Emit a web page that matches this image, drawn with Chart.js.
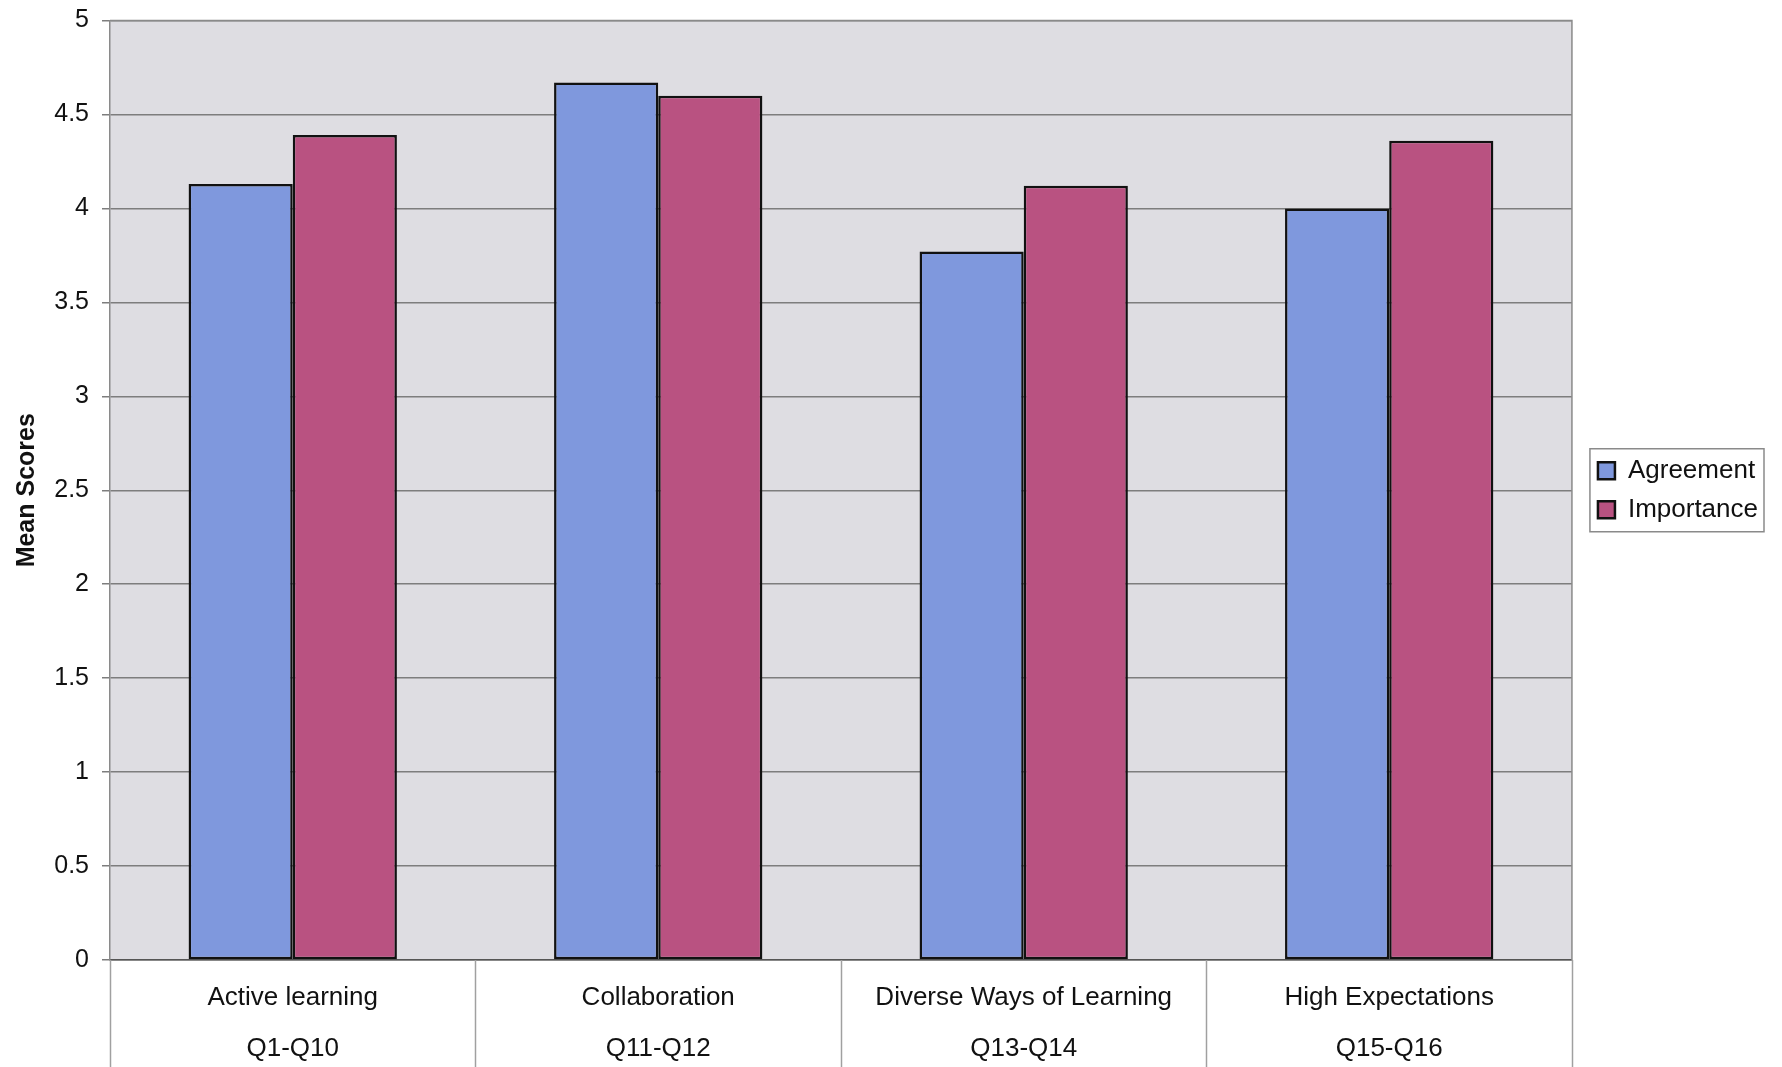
<!DOCTYPE html>
<html>
<head>
<meta charset="utf-8">
<script src="https://cdn.jsdelivr.net/npm/chart.js@4"></script>
<style>
  html, body { margin: 0; padding: 0; background: #fff; }
  #wrap { width: 1782px; height: 1067px; position: relative; }
</style>
</head>
<body>
<div id="wrap"><canvas id="chart"></canvas></div>
<script>
// categories: two-line labels (theme / question range)
const categories = [
    [ 'Active learning', 'Q1-Q10' ],
    [ 'Collaboration', 'Q11-Q12' ],
    [ 'Diverse Ways of Learning', 'Q13-Q14' ],
    [ 'High Expectations', 'Q15-Q16' ],
];
const agreement  = [ 4.13, 4.67, 3.77, 4.00 ];
const importance = [ 4.39, 4.60, 4.12, 4.36 ];
const yTicks     = [ 0, 0.5, 1, 1.5, 2, 2.5, 3, 3.5, 4, 4.5, 5 ];

const FONT = '"Liberation Sans", Arial, sans-serif';

// grey plot background, frame, and the divider lines under the category axis
const plotFrame = {
    id: 'plotFrame',
    beforeDraw( chart ) {
        const { ctx, chartArea: a } = chart;
        ctx.save();
        ctx.fillStyle = '#dedde2';
        ctx.fillRect( a.left, a.top, a.right - a.left, a.bottom - a.top );
        ctx.restore();
    },
    afterDraw( chart ) {
        const { ctx, chartArea: a } = chart;
        const x = chart.scales.x;
        ctx.save();
        ctx.strokeStyle = '#8a8a8a';
        ctx.lineWidth = 1.5;
        ctx.beginPath();
        ctx.moveTo( a.left, a.top );
        ctx.lineTo( a.right, a.top );
        ctx.lineTo( a.right, a.bottom );
        ctx.stroke();

        // dividers between categories, running below the axis
        const edges = [ x.left ];
        for ( let i = 1; i < categories.length; i++ ) {
            edges.push( ( x.getPixelForValue( i - 1 ) + x.getPixelForValue( i ) ) / 2 );
        }
        edges.push( x.right );
        ctx.strokeStyle = '#a0a0a0';
        ctx.lineWidth = 1.5;
        edges.forEach( ( px ) => {
            ctx.beginPath();
            ctx.moveTo( Math.round( px ) + 0.5, a.bottom );
            ctx.lineTo( Math.round( px ) + 0.5, chart.height );
            ctx.stroke();
        } );

        // legend frame
        const boxes = chart.legend.legendHitBoxes;
        if ( boxes && boxes.length ) {
            const l = Math.min( ...boxes.map( ( b ) => b.left ) ) - 8;
            const t = Math.min( ...boxes.map( ( b ) => b.top ) ) - 9;
            const r = Math.max( ...boxes.map( ( b ) => b.left + b.width ) ) + 6;
            const bt = Math.max( ...boxes.map( ( b ) => b.top + b.height ) ) + 9;
            ctx.strokeStyle = '#8a8a8a';
            ctx.lineWidth = 1.5;
            ctx.strokeRect( l, t, r - l, bt - t );
        }
        ctx.restore();
    },
};

new Chart( document.getElementById( 'chart' ), {
    type: 'bar',
    data: {
        labels: categories,
        datasets: [
            {
                label: 'Agreement',
                data: agreement,
                backgroundColor: '#7f98dd',
                borderColor: '#111',
                borderWidth: 2.5,
                borderSkipped: false,
            },
            {
                label: 'Importance',
                data: importance,
                backgroundColor: '#b95281',
                borderColor: '#111',
                borderWidth: 2.5,
                borderSkipped: false,
            },
        ],
    },
    options: {
        responsive: true,
        maintainAspectRatio: false,
        devicePixelRatio: 1,
        animation: false,
        layout: { padding: { top: 11, right: 14, left: 0, bottom: 0 } },
        datasets: { bar: { categoryPercentage: 0.57, barPercentage: 1 } },
        plugins: {
            tooltip: { enabled: false },
            legend: {
                position: 'right',
                fullSize: false,
                labels: {
                    color: '#111',
                    font: { family: FONT, size: 26 },
                    boxWidth: 17,
                    boxHeight: 17,
                    padding: 13,
                },
            },
        },
        scales: {
            x: {
                offset: true,
                grid: { display: false },
                border: { display: true, color: '#555', width: 1.5 },
                ticks: {
                    color: '#111',
                    font: { family: FONT, size: 26, lineHeight: 1.96 },
                    padding: 4,
                    maxRotation: 0,
                    autoSkip: false,
                },
                afterFit( scale ) { scale.height = 107; },
            },
            y: {
                min: 0,
                max: 5,
                afterBuildTicks( scale ) { scale.ticks = yTicks.map( ( v ) => ( { value: v } ) ); },
                grid: {
                    color: '#7d7d7d',
                    lineWidth: 1.5,
                    tickLength: 8,
                    drawTicks: true,
                },
                border: { display: true, color: '#8a8a8a', width: 1.5 },
                ticks: {
                    color: '#111',
                    font: { family: FONT, size: 25, lineHeight: 0.6 },
                    padding: 13,
                    callback: ( v ) => String( v ),
                },
                title: {
                    display: true,
                    text: 'Mean Scores',
                    color: '#111',
                    font: { family: FONT, size: 25, weight: 'bold' },
                    padding: { top: 12, bottom: 6 },
                },
                afterFit( scale ) { scale.width = 110; },
            },
            // empty right-hand axis: only keeps a gap between plot and legend
            gap: {
                type: 'linear',
                position: 'right',
                grid: { display: false, drawTicks: false },
                border: { display: false },
                ticks: { display: false },
                afterFit( scale ) { scale.width = 13; },
            },
        },
    },
    plugins: [ plotFrame ],
} );
</script>
</body>
</html>
